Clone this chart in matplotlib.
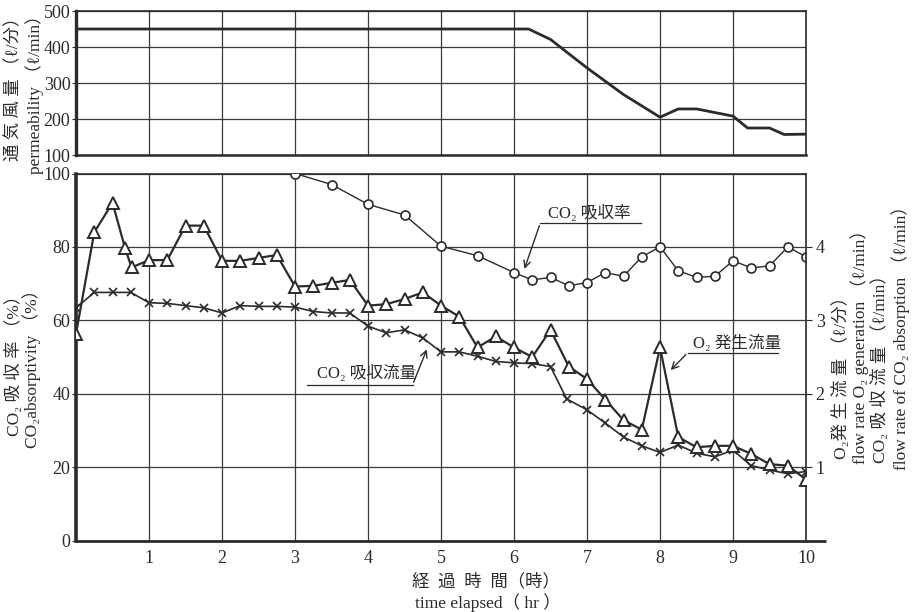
import matplotlib
matplotlib.use("Agg")
import matplotlib.pyplot as plt

# ─── Data ─────────────────────────────────────────────────────────────────────
# permeability (l/min), top panel
perm_t = [0, 6.2, 6.5, 7.0, 7.5, 8.0, 8.25, 8.5, 8.75, 9.0, 9.2, 9.5, 9.7, 10.0]
perm = [450, 450, 421, 342, 268, 205, 228, 228, 218, 208, 175, 175, 157, 158]

# CO2 absorptivity (%), circles
rate_t = [3, 3.5, 4, 4.5, 5, 5.5, 6, 6.25, 6.5, 6.75, 7, 7.25, 7.5, 7.75,
          8, 8.25, 8.5, 8.75, 9, 9.25, 9.5, 9.75, 10]
rate = [100, 97, 91.6, 88.7, 80.2, 77.6, 73, 71, 71.7, 69.4, 70.3, 73, 72, 77.3,
        80, 73.5, 71.7, 72, 76.2, 74.3, 74.8, 80, 77.3]

# O2 generation flow rate (l/min), triangles
o2_t = [0, 0.25, 0.5, 0.67, 0.76, 1.0, 1.25, 1.5, 1.75, 2.0, 2.25, 2.5, 2.75,
        3.0, 3.25, 3.5, 3.75, 4.0, 4.25, 4.5, 4.75, 5.0, 5.25, 5.5, 5.75, 6.0,
        6.25, 6.5, 6.75, 7.0, 7.25, 7.5, 7.75, 8.0, 8.25, 8.5, 8.75, 9.0, 9.25,
        9.5, 9.75, 10]
o2 = [2.82, 4.20, 4.60, 3.99, 3.72, 3.82, 3.82, 4.29, 4.29, 3.81, 3.81, 3.85, 3.89,
      3.46, 3.47, 3.51, 3.55, 3.20, 3.22, 3.29, 3.38, 3.20, 3.05, 2.63, 2.78, 2.63,
      2.50, 2.87, 2.37, 2.20, 1.92, 1.64, 1.51, 2.63, 1.41, 1.27, 1.29, 1.29, 1.18,
      1.04, 1.02, 0.83]

# CO2 absorption flow rate (l/min), crosses
co2_t = [0, 0.25, 0.5, 0.75, 1.0, 1.25, 1.5, 1.75, 2.0, 2.25, 2.5, 2.75, 3.0,
         3.25, 3.5, 3.75, 4.0, 4.25, 4.5, 4.75, 5.0, 5.25, 5.5, 5.75, 6.0, 6.25,
         6.5, 6.72, 7.0, 7.25, 7.5, 7.75, 8.0, 8.25, 8.5, 8.75, 9.0, 9.25, 9.5,
         9.75, 10]
co2 = [3.17, 3.38, 3.38, 3.38, 3.24, 3.23, 3.20, 3.17, 3.10, 3.20, 3.19, 3.19, 3.18,
       3.12, 3.10, 3.10, 2.92, 2.83, 2.87, 2.76, 2.57, 2.57, 2.51, 2.44, 2.42, 2.41,
       2.37, 1.93, 1.78, 1.60, 1.41, 1.29, 1.20, 1.30, 1.19, 1.14, 1.23, 1.02, 0.96,
       0.91, 0.94]

x_ticks = list(range(1, 11))
perm_ticks = [100, 200, 300, 400, 500]
pct_ticks = [0, 20, 40, 60, 80, 100]
flow_ticks = [1, 2, 3, 4]

# ─── Style ────────────────────────────────────────────────────────────────────
FONT = ["Liberation Serif", "Noto Sans CJK JP", "DejaVu Serif"]
plt.rcParams["font.family"] = FONT
INK = "#2b2b2b"
GRID = "#3a3a3a"
TFS = 13     # tick labels
LFS = 12.5   # axis titles
CFS = 12     # callouts

fig = plt.figure(figsize=(9.15, 6.12), dpi=100)
ax_top = fig.add_axes([0.0831, 0.7467, 0.7978, 0.2353])
ax = fig.add_axes([0.0831, 0.1168, 0.7978, 0.5997])

# ─── Top panel: permeability ─────────────────────────────────────────────────
ax_top.plot(perm_t, perm, color=INK, lw=2.0, zorder=3)
ax_top.set_xlim(0, 10)
ax_top.set_ylim(100, 500)
ax_top.set_xticks(range(0, 11))
ax_top.set_yticks(perm_ticks)
ax_top.set_xticklabels([])
ax_top.tick_params(axis="x", length=0)
ax_top.tick_params(axis="y", length=3, direction="out", labelsize=TFS, pad=1, colors=INK)
ax_top.grid(color=GRID, lw=0.9)
for side, s in ax_top.spines.items():
    s.set_color(INK)
    s.set_linewidth(1.2)
ax_top.spines["left"].set_linewidth(2.4)
ax_top.spines["bottom"].set_linewidth(1.8)

# ─── Bottom panel ────────────────────────────────────────────────────────────
ax.set_xlim(0, 10)
ax.set_ylim(0, 100)
ax.set_xticks(range(0, 11))
ax.set_xticklabels([""] + [str(t) for t in x_ticks])
ax.set_yticks(pct_ticks)
ax.tick_params(axis="x", length=0, labelsize=TFS, pad=7, colors=INK)
ax.tick_params(axis="y", length=3, direction="out", labelsize=TFS, pad=1, colors=INK)
ax.grid(color=GRID, lw=0.9)
for side, s in ax.spines.items():
    s.set_color(INK)
    s.set_linewidth(1.2)
ax.spines["left"].set_linewidth(2.6)
ax.spines["bottom"].set_linewidth(2.0)
ax.spines["right"].set_visible(False)
# bottom axis line runs a little past the right axis
ax.plot([10, 10.27], [0, 0], color=INK, lw=2.0, clip_on=False, solid_capstyle="butt")

ax.plot(rate_t, rate, color=INK, lw=1.0, marker="o", ms=6.5,
        mfc="white", mec=INK, mew=1.2, zorder=4)

ax2 = ax.twinx()
ax2.set_ylim(0, 5)
ax2.set_yticks(flow_ticks)
ax2.tick_params(axis="y", length=4, direction="out", labelsize=TFS, pad=3, colors=INK)
for side in ["top", "bottom", "left"]:
    ax2.spines[side].set_visible(False)
ax2.spines["right"].set_color(INK)
ax2.spines["right"].set_linewidth(1.2)

ax2.plot(co2_t, co2, color=INK, lw=1.2, marker="x", ms=5.5, mew=1.2, zorder=4)
ax2.plot(o2_t, o2, color=INK, lw=1.6, marker="^", ms=9,
         mfc="white", mec=INK, mew=1.4, zorder=5)

# ─── Callouts ────────────────────────────────────────────────────────────────
arrow = dict(arrowstyle="->", color=INK, lw=1.0, mutation_scale=12)

ax.text(6.46, 89.2, "CO₂ 吸収率", fontsize=CFS, color=INK, va="center")
ax.plot([6.36, 7.74], [86.5, 86.5], color=INK, lw=0.9)
ax.annotate("", xy=(6.13, 73.3), xytext=(6.36, 86.5), arrowprops=arrow)

ax.text(3.3, 45.6, "CO₂ 吸収流量", fontsize=CFS, color=INK, va="center")
ax.plot([3.17, 4.61], [42.4, 42.4], color=INK, lw=0.9)
ax.annotate("", xy=(4.82, 52.8), xytext=(4.61, 42.4), arrowprops=arrow)

ax.text(8.45, 53.8, "O₂ 発生流量", fontsize=CFS, color=INK, va="center")
ax.plot([8.38, 9.62], [51.2, 51.2], color=INK, lw=0.9)
ax.annotate("", xy=(8.12, 45.9), xytext=(8.38, 51.2), arrowprops=arrow)

# ─── Axis titles ─────────────────────────────────────────────────────────────
def vlabel(x, y, s):
    fig.text(x, y, s, rotation=90, ha="center", va="center", fontsize=LFS, color=INK)

vlabel(0.0153, 0.862, "通 気 風 量 （ℓ/分）")
vlabel(0.038, 0.852, "permeability （ℓ/min）")
vlabel(0.0153, 0.41, "CO₂ 吸 収 率 （%）")
vlabel(0.035, 0.405, "CO₂absorptivity （%）")

vlabel(0.919, 0.39, "O₂発 生 流 量 （ℓ/分）")
vlabel(0.939, 0.44, "flow rate O₂ generation （ℓ/min）")
vlabel(0.962, 0.405, "CO₂ 吸 収 流 量 （ℓ/min）")
vlabel(0.984, 0.455, "flow rate of CO₂ absorption （ℓ/min）")

fig.text(0.531, 0.049, "経  過  時  間（時）", ha="center", va="center", fontsize=LFS, color=INK)
fig.text(0.533, 0.0147, "time elapsed（ hr ）", ha="center", va="center", fontsize=LFS, color=INK)

fig.savefig("out.png", dpi=100)
